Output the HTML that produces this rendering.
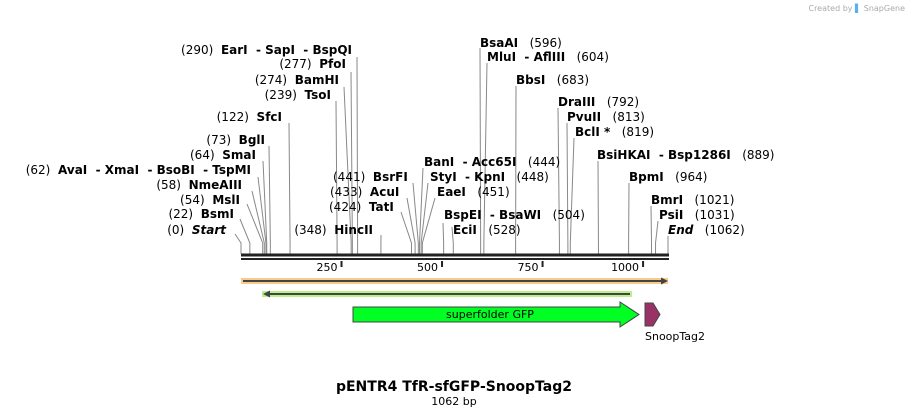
<!DOCTYPE html>
<html><head><meta charset="utf-8"><style>
html,body{margin:0;padding:0;background:#fff;}
svg{display:block;font-family:"DejaVu Sans","Liberation Sans",sans-serif;}
.n{font-size:11px;fill:#000;}
.s{font-size:12px;fill:#000;white-space:pre;}
.b{font-weight:bold;}
</style></head><body>
<svg id="map" width="909" height="417" viewBox="0 0 909 417">
<text x="905" y="11" text-anchor="end" font-size="8" fill="#aaa">Created by <tspan fill="#5ab0e8">▌</tspan> SnapGene</text>
<g id="lines"></g>
<g id="labels"></g>
<g id="ruler"></g>
<g>
<rect x="241" y="278" width="427" height="6" fill="#f9cb8b"/>
<line x1="243" y1="281" x2="664" y2="281" stroke="#444" stroke-width="2"/>
<polygon points="668,281 661,277.5 661,284.5" fill="#444"/>
<rect x="262" y="291" width="370" height="6" fill="#b9f08c"/>
<line x1="267" y1="294" x2="630" y2="294" stroke="#444" stroke-width="2"/>
<polygon points="263,294 270,290.5 270,297.5" fill="#444"/>
<polygon points="353,307 620,307 620,302 639,314.5 620,327 620,322 353,322" fill="#00ff22" stroke="#444" stroke-width="1"/>
<text x="490" y="318" text-anchor="middle" class="n">superfolder GFP</text>
<polygon points="645,303 653,303 660,314.5 653,326 645,326" fill="#993366" stroke="#444" stroke-width="1"/>
<text x="645" y="340" class="n">SnoopTag2</text>
</g>
<text x="454" y="391" text-anchor="middle" font-size="14" font-weight="bold">pENTR4 TfR-sfGFP-SnoopTag2</text>
<text x="454" y="405" text-anchor="middle" class="n">1062 bp</text>
</svg>
<script>
const seqLen = 1062;
const tickValues = [250, 500, 750, 1000];
const tickLabels = ["250", "500", "750", "1000"];
const siteBp = [290,277,274,239,122,73,64,62,58,54,22,0,348,441,433,424,444,448,451,504,528,596,604,683,792,813,819,889,964,1021,1031,1062];
const siteNames = ["EarI  - SapI  - BspQI","PfoI","BamHI","TsoI","SfcI","BglI","SmaI","AvaI  - XmaI  - BsoBI  - TspMI","NmeAIII","MslI","BsmI","Start","HincII","BsrFI","AcuI","TatI","BanI  - Acc65I","StyI  - KpnI","EaeI","BspEI  - BsaWI","EciI","BsaAI","MluI  - AflIII","BbsI","DraIII","PvuII","BclI *","BsiHKAI  - Bsp1286I","BpmI","BmrI","PsiI","End"];
const layout = [
 [352,54,'e',357,57],[346,68,'e',351,72],[339,84,'e',344,87],[331,99,'e',336,101],[282,121,'e',289,123],
 [265,144,'e',269,146],[256,159,'e',263,161],[251,174,'e',258,177],[242,189,'e',252,191],[240,204,'e',247,204],
 [234,218,'e',240,219],[226,234,'e',235,234],[373,234,'e',381,235],
 [333,181,'s',413,183],[330,196,'s',407,198],[329,211,'s',401,212],
 [424,166,'s',423,168],[430,181,'s',428,183],[437,196,'s',435,198],[444,219,'s',443,223],[453,234,'s',452,227],
 [480,47,'s',480,48],[487,61,'s',487,63],[516,84,'s',516,86],[558,106,'s',558,108],[567,121,'s',567,123],
 [575,136,'s',574,138],[597,159,'s',598,161],[629,181,'s',629,183],[651,204,'s',651,206],[659,219,'s',658,221],[668,234,'s',668,236]
];
const x0 = 241, x1 = 668;
function sx(bp){ return x0 + bp / seqLen * (x1 - x0); }
const NS = 'http://www.w3.org/2000/svg';
const lg = document.getElementById('lines'), tg = document.getElementById('labels'), rg = document.getElementById('ruler');
siteBp.forEach((bp, i) => {
  const L = layout[i];
  const x = sx(bp);
  const pl = document.createElementNS(NS, 'polyline');
  pl.setAttribute('points', `${L[3]},${L[4]} ${x},243 ${x},254`);
  pl.setAttribute('fill', 'none');
  pl.setAttribute('stroke', '#888');
  pl.setAttribute('stroke-width', '1');
  
  
  lg.appendChild(pl);
  const t = document.createElementNS(NS, 'text');
  t.setAttribute('x', L[0]); t.setAttribute('y', L[1]);
  t.setAttribute('text-anchor', L[2] === 'e' ? 'end' : 'start');
  t.setAttribute('class', 's');
  
  
  const num = document.createElementNS(NS, 'tspan'); num.textContent = '(' + bp + ')';
  const nm = document.createElementNS(NS, 'tspan'); nm.setAttribute('class', 'b'); nm.textContent = siteNames[i];
  if (siteNames[i] === 'Start' || siteNames[i] === 'End') nm.setAttribute('font-style', 'italic');
  if (L[2] === 'e' || (bp >= 424 && bp <= 441 && L[0] < 340)) { t.appendChild(num); t.appendChild(document.createTextNode('  ')); t.appendChild(nm); }
  else { t.appendChild(nm); t.appendChild(document.createTextNode('   ')); t.appendChild(num); }
  tg.appendChild(t);
});
const r1 = document.createElementNS(NS, 'rect');
r1.setAttribute('x', x0); r1.setAttribute('y', 253.5); r1.setAttribute('width', x1 - x0 + 1); r1.setAttribute('height', 3); r1.setAttribute('fill', '#222');


rg.appendChild(r1);
const r2 = document.createElementNS(NS, 'rect');
r2.setAttribute('x', x0); r2.setAttribute('y', 258); r2.setAttribute('width', x1 - x0 + 1); r2.setAttribute('height', 2); r2.setAttribute('fill', '#222');


rg.appendChild(r2);
tickValues.forEach((v, i) => {
  const x = sx(v);
  const tk = document.createElementNS(NS, 'rect');
  tk.setAttribute('x', x - 1); tk.setAttribute('y', 261); tk.setAttribute('width', 2); tk.setAttribute('height', 6); tk.setAttribute('fill', '#222');
  
  
  rg.appendChild(tk);
  const tl = document.createElementNS(NS, 'text');
  tl.setAttribute('x', x - 4); tl.setAttribute('y', 271); tl.setAttribute('text-anchor', 'end'); tl.setAttribute('class', 'n');
  tl.textContent = tickLabels[i];
  
  
  rg.appendChild(tl);
});
</script>
</body></html>
